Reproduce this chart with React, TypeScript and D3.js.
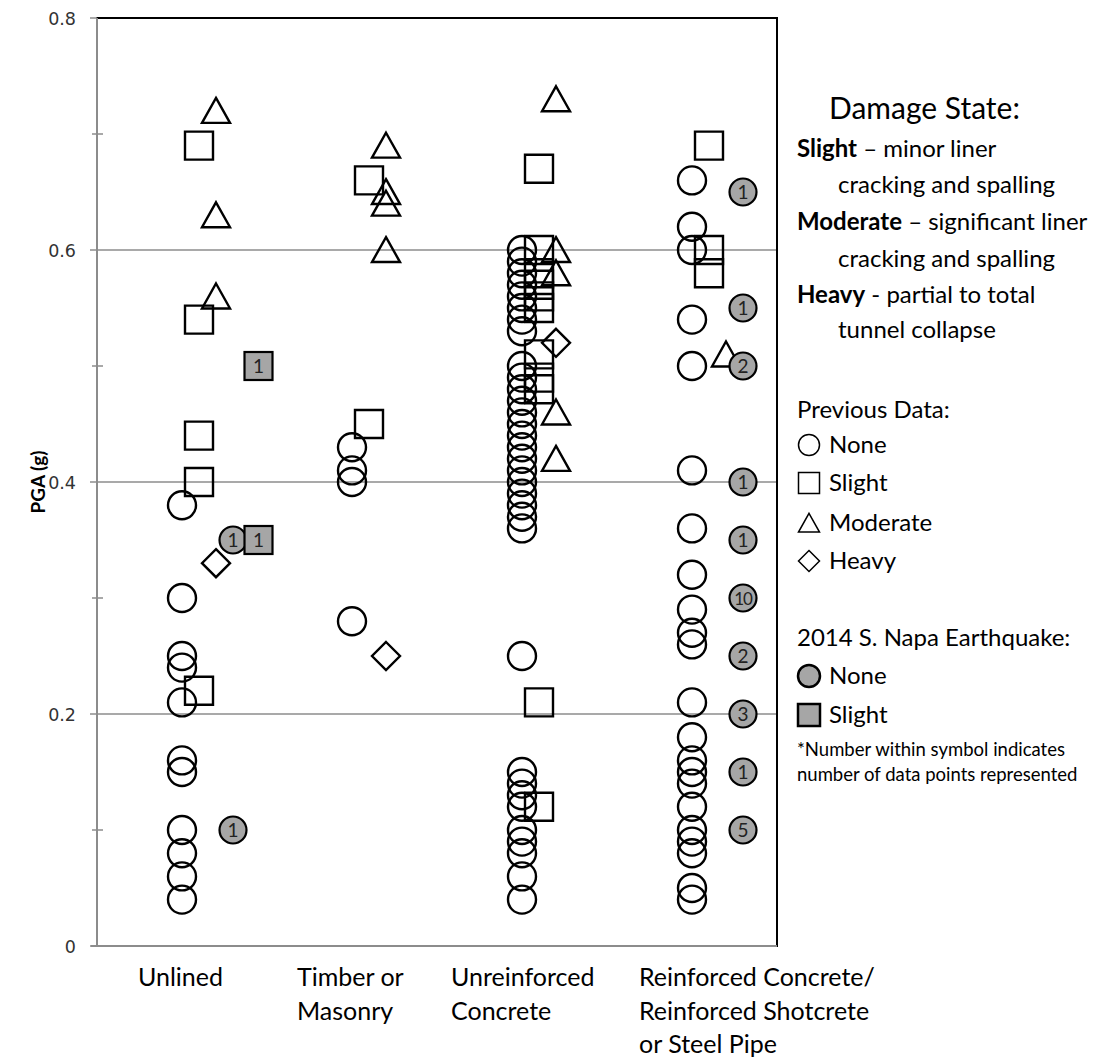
import React from 'react';
import * as d3 from 'd3';

// tunnel lining types (x axis)
const categories = [
  ['Unlined'],
  ['Timber or', 'Masonry'],
  ['Unreinforced', 'Concrete'],
  ['Reinforced Concrete/', 'Reinforced Shotcrete', 'or Steel Pipe'],
];

// previous data, PGA (g) per lining type
const prevNone = [
  [0.38, 0.30, 0.25, 0.24, 0.21, 0.16, 0.15, 0.10, 0.08, 0.06, 0.04],
  [0.43, 0.41, 0.40, 0.28],
  [0.60, 0.59, 0.58, 0.57, 0.56, 0.55, 0.54, 0.53, 0.50, 0.49, 0.48, 0.47, 0.46, 0.45, 0.44, 0.43, 0.42, 0.41, 0.40, 0.39, 0.38, 0.37, 0.36, 0.25, 0.15, 0.14, 0.13, 0.12, 0.10, 0.09, 0.08, 0.06, 0.04],
  [0.66, 0.62, 0.60, 0.54, 0.50, 0.41, 0.36, 0.32, 0.29, 0.27, 0.26, 0.21, 0.18, 0.16, 0.15, 0.14, 0.12, 0.10, 0.09, 0.08, 0.05, 0.04],
];
const prevSlight = [
  [0.69, 0.54, 0.44, 0.40, 0.22],
  [0.66, 0.45],
  [0.67, 0.60, 0.58, 0.57, 0.56, 0.55, 0.51, 0.49, 0.48, 0.21, 0.12],
  [0.69, 0.60, 0.58],
];
const prevModerate = [
  [0.72, 0.63, 0.56],
  [0.69, 0.65, 0.64, 0.60],
  [0.73, 0.60, 0.58, 0.46, 0.42],
  [0.51],
];
const prevHeavy = [[0.33], [0.25], [0.52], []];

// 2014 S. Napa earthquake: [lining index, PGA, number of points]
const napaNone = [
  [0, 0.35, 1], [0, 0.10, 1],
  [3, 0.65, 1], [3, 0.55, 1], [3, 0.50, 2], [3, 0.40, 1], [3, 0.35, 1],
  [3, 0.30, 10], [3, 0.25, 2], [3, 0.20, 3], [3, 0.15, 1], [3, 0.10, 5],
];
const napaSlight = [[0, 0.50, 1], [0, 0.35, 1]];

const yTicks = [0, 0.2, 0.4, 0.6, 0.8];
const yMinor = [0.1, 0.3, 0.5, 0.7];

const W = 1095;
const H = 1059;
const font = 'Lato, "Open Sans", sans-serif';

const x = d3.scaleLinear().domain([0.5, 4.5]).range([97, 777]);
const y = d3.scaleLinear().domain([0, 0.8]).range([946, 18]);

function shape(kind: string, s: number) {
  const h = s / 2;
  if (kind === 'square') return `M${-h},${-h}H${h}V${h}H${-h}Z`;
  if (kind === 'triangle') return `M0,${-h * 0.92}L${h},${h * 0.86}L${-h},${h * 0.86}Z`;
  if (kind === 'diamond') return `M0,${-h}L${h},0L0,${h}L${-h},0Z`;
  return d3.arc()({ innerRadius: 0, outerRadius: h, startAngle: 0, endAngle: 2 * Math.PI }) as string;
}

const offsets: Record<string, number> = { circle: 0, square: 0.1, triangle: 0.2, diamond: 0.2 };

function OpenSeries({ data, kind }: { data: number[][]; kind: string }) {
  return (
    <g>
      {data.map((vals, i) =>
        vals.map((v, j) => (
          <path
            key={`${i}-${j}`}
            d={shape(kind, 28)}
            transform={`translate(${x(i + 1 + offsets[kind])},${y(v)})`}
            fill="none"
            stroke="#000"
            strokeWidth={2.4}
          />
        ))
      )}
    </g>
  );
}

export default function App() {
  const legendLines = [
    { b: 'Slight', t: ' – minor liner', x: 797, y: 149 },
    { b: '', t: 'cracking and spalling', x: 838, y: 185 },
    { b: 'Moderate', t: ' – significant liner', x: 797, y: 222 },
    { b: '', t: 'cracking and spalling', x: 838, y: 259 },
    { b: 'Heavy', t: ' - partial to total', x: 797, y: 295 },
    { b: '', t: 'tunnel collapse', x: 838, y: 330 },
  ];
  const prevLegend = [
    { kind: 'circle', label: 'None', y: 445 },
    { kind: 'square', label: 'Slight', y: 483 },
    { kind: 'triangle', label: 'Moderate', y: 523 },
    { kind: 'diamond', label: 'Heavy', y: 561 },
  ];
  const labelDx = [-44, -55, -71, -53];

  return (
    <svg width={W} height={H} style={{ position: 'absolute', left: 0, top: 0, background: '#fff' }} fontFamily={font}>
      <rect width={W} height={H} fill="#fff" />

      {/* gridlines */}
      {yTicks.filter(t => t > 0 && t < 0.8).map(t => (
        <line key={t} x1={x(0.5)} x2={x(4.5)} y1={y(t)} y2={y(t)} stroke="#8c8c8c" strokeWidth={1.5} />
      ))}

      {/* plot border */}
      <rect x={x(0.5)} y={y(0.8)} width={x(4.5) - x(0.5)} height={y(0) - y(0.8)} fill="none" stroke="#000" strokeWidth={2} />
      <line x1={x(0.5)} x2={x(0.5)} y1={y(0.8)} y2={y(0)} stroke="#8c8c8c" strokeWidth={2} />
      <line x1={x(0.5) - 6} x2={x(4.5)} y1={y(0)} y2={y(0)} stroke="#8c8c8c" strokeWidth={2} />

      {/* y ticks */}
      {yTicks.map(t => (
        <g key={t}>
          <line x1={x(0.5) - 7} x2={x(0.5)} y1={y(t)} y2={y(t)} stroke="#8c8c8c" strokeWidth={1.5} />
          <text x={76} y={y(t) + 6.5} textAnchor="end" fontFamily='"DejaVu Sans", Verdana, sans-serif' fontSize={17.5} fill="#333">
            {d3.format('')(t)}
          </text>
        </g>
      ))}
      {yMinor.map(t => (
        <line key={t} x1={x(0.5) - 5} x2={x(0.5) + 6} y1={y(t)} y2={y(t)} stroke="#8c8c8c" strokeWidth={1.5} />
      ))}

      <text transform={`translate(45,${y(0.4)}) rotate(-90)`} textAnchor="middle" fontWeight="bold" fontSize={19} fill="#000">
        PGA (g)
      </text>

      {/* category labels */}
      {categories.map((lines, i) => (
        <text key={i} x={x(i + 1) + labelDx[i]} y={986} fontSize={25} fill="#000">
          {lines.map((l, k) => (
            <tspan key={k} x={x(i + 1) + labelDx[i]} dy={k === 0 ? 0 : 33.5}>{l}</tspan>
          ))}
        </text>
      ))}

      {/* previous data */}
      <OpenSeries data={prevNone} kind="circle" />
      <OpenSeries data={prevSlight} kind="square" />
      <OpenSeries data={prevModerate} kind="triangle" />
      <OpenSeries data={prevHeavy} kind="diamond" />

      {/* 2014 S. Napa */}
      {napaNone.map(([c, v, n], k) => (
        <g key={`nn${k}`} transform={`translate(${x(c + 1.3)},${y(v)})`}>
          <circle r={13.5} fill="#a6a6a6" stroke="#000" strokeWidth={2.2} />
          <text y={6.5} textAnchor="middle" fontSize={n >= 10 ? 17 : 19} letterSpacing={n >= 10 ? -1 : 0} fill="#222">{n}</text>
        </g>
      ))}
      {napaSlight.map(([c, v, n], k) => (
        <g key={`ns${k}`} transform={`translate(${x(c + 1.45)},${y(v)})`}>
          <rect x={-14} y={-14} width={28} height={28} fill="#a6a6a6" stroke="#000" strokeWidth={2.2} />
          <text y={6.5} textAnchor="middle" fontSize={19} fill="#222">{n}</text>
        </g>
      ))}

      {/* legend */}
      <text x={829} y={119} fontSize={30} fill="#000">Damage State:</text>
      {legendLines.map((l, i) => (
        <text key={i} x={l.x} y={l.y + 8} fontSize={24} fill="#000">
          {l.b && <tspan fontWeight="bold">{l.b}</tspan>}
          <tspan>{l.t}</tspan>
        </text>
      ))}
      <text x={797} y={418} fontSize={24} fill="#000">Previous Data:</text>
      {prevLegend.map(l => (
        <g key={l.label}>
          <path d={shape(l.kind, 21)} transform={`translate(809,${l.y})`} fill="none" stroke="#000" strokeWidth={1.5} />
          <text x={829} y={l.y + 8} fontSize={24} fill="#000">{l.label}</text>
        </g>
      ))}
      <text x={797} y={646} fontSize={24} fill="#000">2014 S. Napa Earthquake:</text>
      <circle cx={809} cy={676} r={11} fill="#a6a6a6" stroke="#000" strokeWidth={2.5} />
      <text x={829} y={684} fontSize={24} fill="#000">None</text>
      <rect x={798} y={704} width={22} height={22} fill="#a6a6a6" stroke="#000" strokeWidth={2.5} />
      <text x={829} y={723} fontSize={24} fill="#000">Slight</text>
      <text x={797} y={756} fontSize={18.5} fill="#000">*Number within symbol indicates</text>
      <text x={797} y={781} fontSize={18.5} fill="#000">number of data points represented</text>
    </svg>
  );
}
